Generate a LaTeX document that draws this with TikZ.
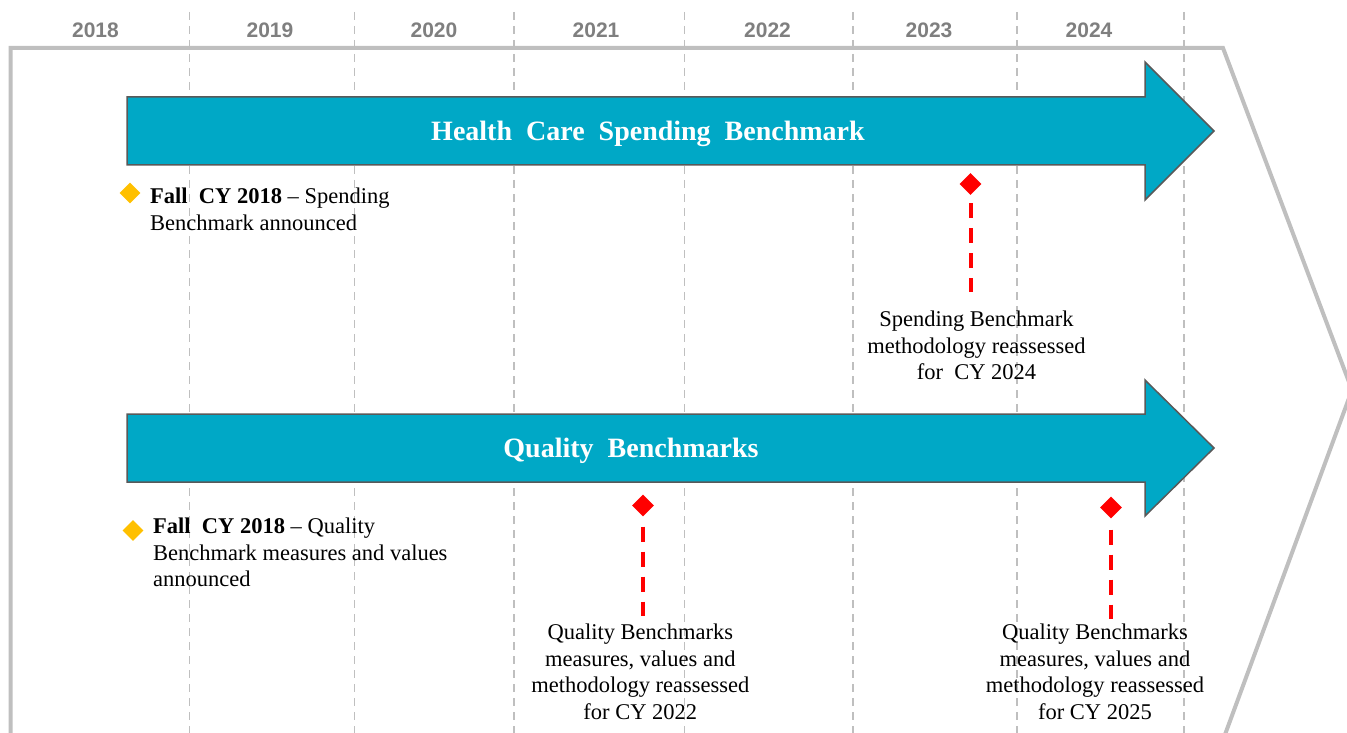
\documentclass[tikz,border=0pt]{standalone}
\usepackage{fontspec}
\setmainfont{Liberation Serif}
\newfontfamily\yearfont{Liberation Sans}
\usetikzlibrary{shapes.geometric}
\definecolor{arrowfill}{HTML}{00A8C6}
\definecolor{arrowline}{HTML}{595959}
\definecolor{gridgray}{HTML}{BFBFBF}
\definecolor{yeargray}{HTML}{7F7F7F}
\definecolor{markyellow}{HTML}{FFC000}
\definecolor{markred}{HTML}{FF0000}
\tikzset{
  vline/.style={draw=gridgray, line width=1.5pt, dash pattern=on 8pt off 6pt},
  outline/.style={draw=gridgray, line width=4pt, line join=miter},
  bigarrow/.style={fill=arrowfill, draw=arrowline, line width=1.5pt, line join=miter},
  yearlabel/.style={font=\yearfont\bfseries\fontsize{21}{25}\selectfont, text=yeargray, anchor=base, inner sep=0pt},
  titletext/.style={font=\bfseries\fontsize{28}{32}\selectfont, text=white, inner sep=0pt},
  ydiamond/.style={diamond, fill=markyellow, minimum size=21pt, inner sep=0pt},
  rdiamond/.style={diamond, fill=markred, minimum size=22pt, inner sep=0pt},
  bodytext/.style={font=\fontsize{22.5}{26.5}\selectfont, inner sep=0pt},
  leftnote/.style={bodytext, align=left, anchor=north west},
  milestone/.style={bodytext, align=center, anchor=north},
  reddash/.style={draw=markred, line width=4pt, dash pattern=on 15pt off 10pt}
}
\begin{document}
\begin{tikzpicture}[x=1pt,y=-1pt]
\useasboundingbox (0,0) rectangle (1347,733);
\clip (0,0) rectangle (1347,733);
% grid lines
\foreach \x in {189.5,354.5,514,684.5,853,1017,1184}
  \draw[vline] (\x,12) -- (\x,733);
% years
\node[yearlabel] (y2018) at (95.5,38) {2018};
\node[yearlabel] (y2019) at (270,38) {2019};
\node[yearlabel] (y2020) at (434,38) {2020};
\node[yearlabel] (y2021) at (596,38) {2021};
\node[yearlabel] (y2022) at (767.5,38) {2022};
\node[yearlabel] (y2023) at (929,38) {2023};
\node[yearlabel] (y2024) at (1089,38) {2024};
% outline chevron
\draw[outline] (10.5,740) -- (10.5,48) -- (1223,48) -- (1352,390) -- (1223,740);
% arrows
\draw[bigarrow] (127,97) -- (1145,97) -- (1145,62) -- (1214,131) -- (1145,200) -- (1145,165) -- (127,165) -- cycle;
\draw[bigarrow] (127,414) -- (1145,414) -- (1145,380) -- (1214,448) -- (1145,516) -- (1145,482) -- (127,482) -- cycle;
\node[titletext] (t1) at (648,134) {Health\hspace{0.5em}Care\hspace{0.5em}Spending\hspace{0.5em}Benchmark};
\node[titletext] (t2) at (631,451) {Quality\hspace{0.5em}Benchmarks};
% left notes
\node[ydiamond] (yd1) at (130,193) {};
\node[leftnote] (n1) at (150,188) {\textbf{Fall\hspace{0.5em}CY 2018} -- Spending\\Benchmark announced};
\node[ydiamond] (yd2) at (133,530.5) {};
\node[leftnote] (n2) at (153,518) {\textbf{Fall\hspace{0.5em}CY 2018} -- Quality\\Benchmark measures and values\\announced};
% milestones
\node[rdiamond] (rd1) at (970.5,184) {};
\node[milestone] (m1) at (976.5,311) {Spending Benchmark\\methodology reassessed\\for\hspace{0.5em}CY 2024};
\coordinate (m1top) at (970.5,292);
\draw[reddash] ([yshift=-8pt]rd1.south) -- (m1top);
\node[rdiamond] (rd2) at (643,505.5) {};
\node[milestone] (m2) at (640.3,624) {Quality Benchmarks\\measures, values and\\methodology reassessed\\for CY 2022};
\coordinate (m2top) at (643,616);
\draw[reddash] ([yshift=-10pt]rd2.south) -- (m2top);
\node[rdiamond] (rd3) at (1111,507.5) {};
\node[milestone] (m3) at (1095,624) {Quality Benchmarks\\measures, values and\\methodology reassessed\\for CY 2025};
\coordinate (m3top) at (1111,619);
\draw[reddash] ([yshift=-11pt]rd3.south) -- (m3top);
\end{tikzpicture}
\end{document}
